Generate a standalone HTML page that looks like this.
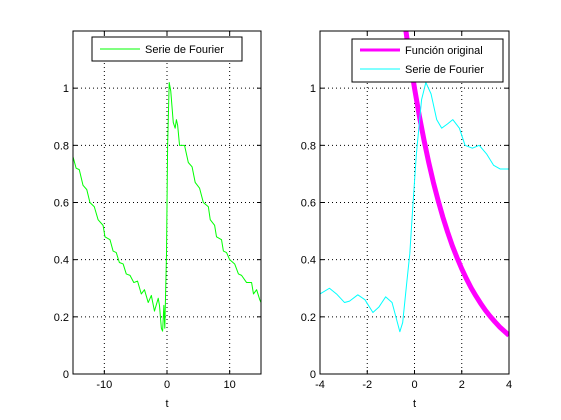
<!DOCTYPE html>
<html><head><meta charset="utf-8"><style>
body{margin:0;background:#fff;}
svg{display:block;font-family:"Liberation Sans",sans-serif;font-size:11px;}
</style></head><body>
<svg id="fig" width="561" height="420" viewBox="0 0 561 420"></svg>
<script>
const leftT=[-15,-14.5,-14,-13.4,-12.8,-12.3,-11.6,-11,-10.2,-9.9,-9.1,-8.6,-8.1,-7.6,-7,-6.5,-5.9,-5.3,-4.7,-4.1,-3.6,-3,-2.5,-2,-1.4,-1.2,-0.9,-0.7,-0.5,-0.35,-0.08,0.1,0.35,0.6,1,1.3,1.5,1.7,2,2.8,3.4,4,4.5,5.2,5.8,6.6,6.9,7.6,7.9,8.7,9,9.5,10,10.8,11.4,11.9,12.7,13.5,13.8,14.3,14.8,15];
const leftY=[0.76,0.72,0.715,0.66,0.645,0.60,0.585,0.54,0.52,0.48,0.47,0.43,0.425,0.39,0.385,0.35,0.345,0.32,0.325,0.28,0.295,0.25,0.275,0.22,0.265,0.24,0.16,0.15,0.24,0.16,0.42,0.8,1.02,0.99,0.88,0.86,0.89,0.87,0.80,0.80,0.74,0.725,0.67,0.65,0.60,0.585,0.54,0.52,0.48,0.47,0.43,0.425,0.40,0.385,0.35,0.345,0.32,0.32,0.28,0.295,0.26,0.25];
const rightT=[-4,-3.6,-3.3,-2.96,-2.75,-2.4,-2.1,-1.76,-1.5,-1.22,-0.95,-0.62,-0.5,-0.34,-0.2,-0.06,0.08,0.3,0.48,0.7,0.94,1.15,1.4,1.62,1.9,2.14,2.45,2.74,3.05,3.35,3.63,4];
const rightY=[0.28,0.30,0.28,0.25,0.255,0.277,0.26,0.215,0.235,0.27,0.25,0.148,0.18,0.31,0.42,0.6,0.77,0.96,1.02,0.98,0.89,0.86,0.875,0.89,0.86,0.80,0.79,0.80,0.77,0.73,0.717,0.717];
const origT=[-0.4,-0.2,0,0.2,0.4,0.6,0.8,1,1.2,1.4,1.6,1.8,2,2.2,2.4,2.6,2.8,3,3.2,3.4,3.6,3.8,4];
const origY=[1.221,1.105,1,0.905,0.819,0.741,0.670,0.607,0.549,0.497,0.449,0.407,0.368,0.333,0.301,0.273,0.247,0.223,0.202,0.183,0.165,0.150,0.135];
const leftXTicks=[-10,0,10], leftXLabels=["-10","0","10"];
const rightXTicks=[-4,-2,0,2,4], rightXLabels=["-4","-2","0","2","4"];
const yTicks=[0,0.2,0.4,0.6,0.8,1], yLabels=["0","0.2","0.4","0.6","0.8","1"];

const NS="http://www.w3.org/2000/svg";
const svg=document.getElementById('fig');
function mk(tag,attrs,parent){const e=document.createElementNS(NS,tag);for(const k in attrs)e.setAttribute(k,attrs[k]);(parent||svg).appendChild(e);return e;}

function axes(name,x0,x1,xmin,xmax,xt,xl){
  const y0=31,y1=374,ymin=0,ymax=1.2;
  const sx=v=>x0+(v-xmin)/(xmax-xmin)*(x1-x0);
  const sy=v=>y1-(v-ymin)/(ymax-ymin)*(y1-y0);
  const g=mk('g',{});
  
  
  mk('rect',{x:x0,y:y0,width:x1-x0,height:y1-y0,fill:'#fff'},g);
  xt.forEach((v,i)=>{
    const x=sx(v);
    if(v>xmin&&v<xmax){const l=mk('line',{x1:x,x2:x,y1:y0,y2:y1,stroke:'#000','stroke-width':1,'stroke-dasharray':'1,3'},g);
      }
    mk('line',{x1:x,x2:x,y1:y1,y2:y1-4,stroke:'#000'},g);
    mk('line',{x1:x,x2:x,y1:y0,y2:y0+4,stroke:'#000'},g);
    const t=mk('text',{x:x,y:y1+14,'text-anchor':'middle'},g);t.textContent=xl[i];
    
  });
  yTicks.forEach((v,i)=>{
    const y=sy(v);
    if(v>ymin){const l=mk('line',{x1:x0,x2:x1,y1:y,y2:y,stroke:'#000','stroke-width':1,'stroke-dasharray':'1,3'},g);
      }
    mk('line',{x1:x0,x2:x0+4,y1:y,y2:y,stroke:'#000'},g);
    mk('line',{x1:x1,x2:x1-4,y1:y,y2:y,stroke:'#000'},g);
    const t=mk('text',{x:x0-4,y:y+4,'text-anchor':'end'},g);t.textContent=yLabels[i];
    
  });
  const xlab=mk('text',{x:(x0+x1)/2,y:407,'text-anchor':'middle'},g);xlab.textContent='t';
  
  const cid='clip'+name;
  const cp=mk('clipPath',{id:cid},g);mk('rect',{x:x0,y:y0,width:x1-x0,height:y1-y0},cp);
  const plot=mk('g',{'clip-path':'url(#'+cid+')'},g);
  return {g,plot,sx,sy,x0,x1,y0,y1};
}
function line(ax,T,Y,color,w,name){
  const p=mk('polyline',{points:T.map((t,i)=>ax.sx(t)+','+ax.sy(Y[i])).join(' '),fill:'none',stroke:color,'stroke-width':w,'stroke-linejoin':'round'},ax.plot);
  
  
}
function frame(ax){mk('rect',{x:ax.x0,y:ax.y0,width:ax.x1-ax.x0,height:ax.y1-ax.y0,fill:'none',stroke:'#000'},ax.g);}

const L=axes('left-axes',73,261,-15,15,leftXTicks,leftXLabels);
line(L,leftT,leftY,'#00ff00',1,'fourier-series-line-left');
frame(L);
const lg=mk('g',{});


mk('rect',{x:92,y:37,width:150,height:24,fill:'#fff',stroke:'#000'},lg);
mk('line',{x1:100,x2:140,y1:49,y2:49,stroke:'#00ff00'},lg);
const lt=mk('text',{x:145,y:53},lg);lt.textContent='Serie de Fourier';

const R=axes('right-axes',320,509,-4,4,rightXTicks,rightXLabels);
line(R,origT,origY,'#ff00ff',5,'original-function-line');
line(R,rightT,rightY,'#00ffff',1,'fourier-series-line-right');
frame(R);
const rg=mk('g',{});


mk('rect',{x:352,y:39,width:151,height:43,fill:'#fff',stroke:'#000'},rg);
mk('line',{x1:360,x2:400,y1:50,y2:50,stroke:'#ff00ff','stroke-width':3},rg);
const r1=mk('text',{x:405,y:54},rg);r1.textContent='Función original';
mk('line',{x1:360,x2:400,y1:69,y2:69,stroke:'#00ffff'},rg);
const r2=mk('text',{x:405,y:73},rg);r2.textContent='Serie de Fourier';
</script>
</body></html>
